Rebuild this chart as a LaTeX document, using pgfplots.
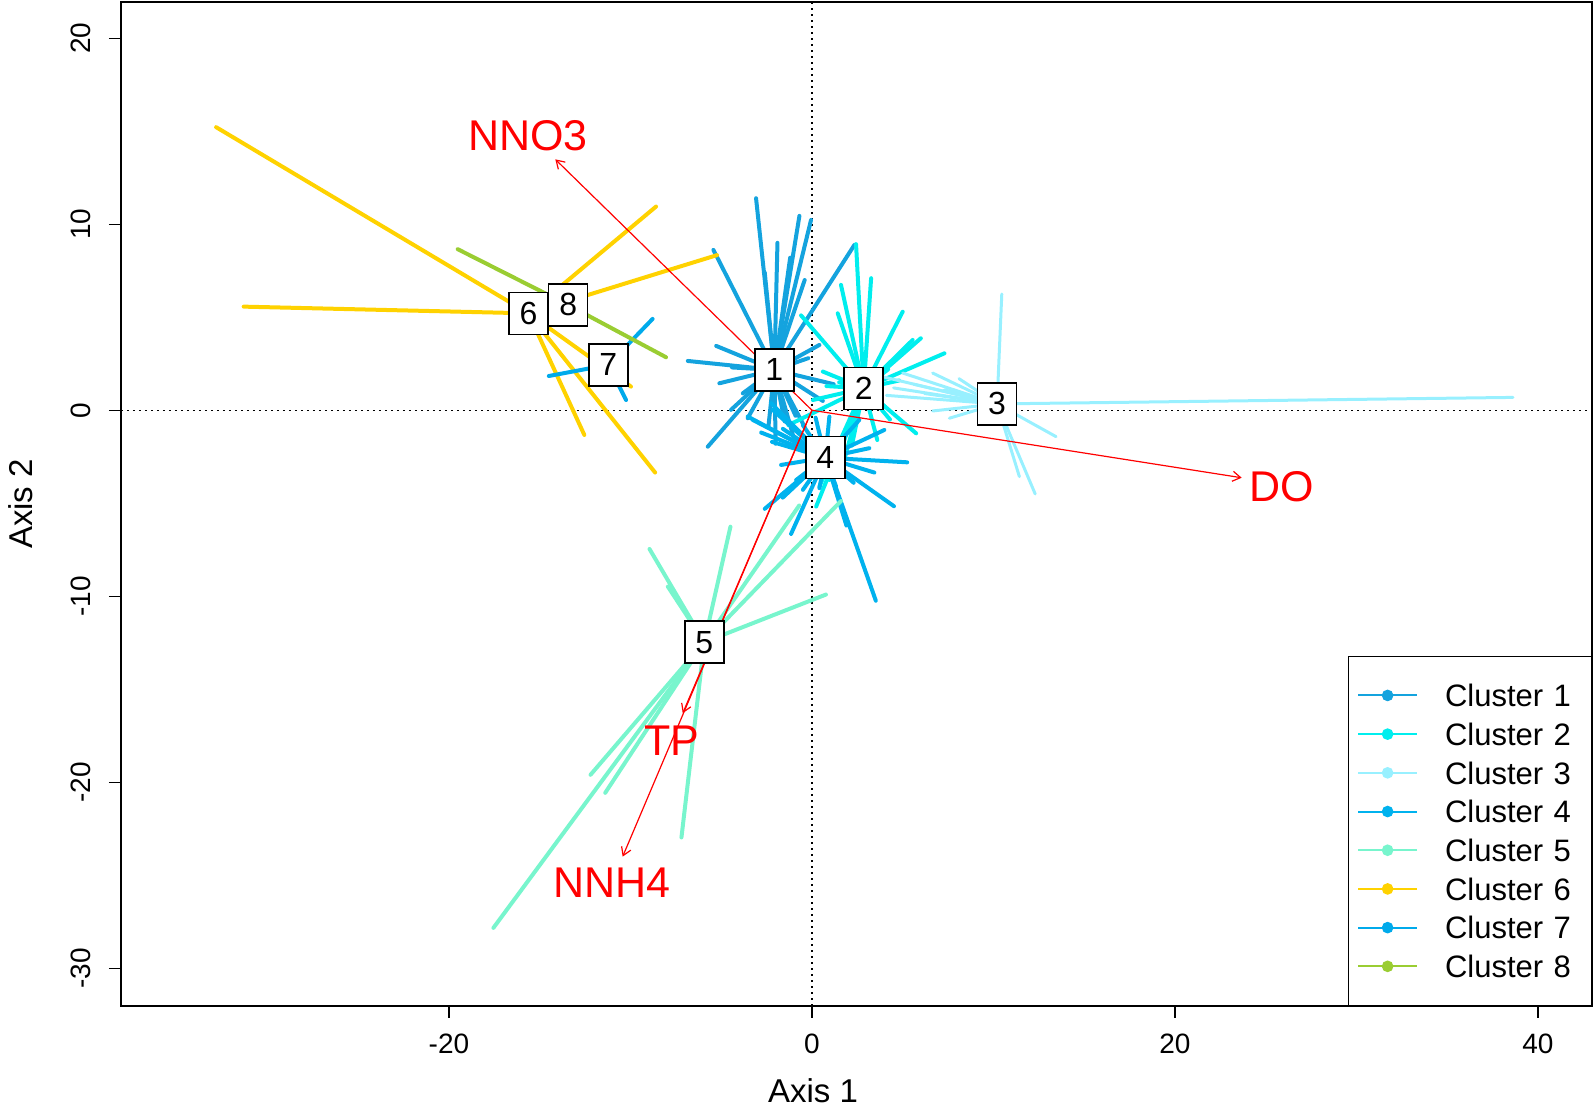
\documentclass[border=0pt]{standalone}
\usepackage{fontspec}
\setmainfont{Liberation Sans}
\usepackage{pgfplots}
\usepackage{pgfplotstable}
\pgfplotsset{compat=1.18}
\usetikzlibrary{arrows.meta}

\definecolor{cA}{RGB}{20,163,222}
\definecolor{cB}{RGB}{0,238,238}
\definecolor{cC}{RGB}{152,240,255}
\definecolor{cD}{RGB}{0,178,238}
\definecolor{cE}{RGB}{120,245,205}
\definecolor{cF}{RGB}{255,210,0}
\definecolor{cG}{RGB}{0,170,235}
\definecolor{cH}{RGB}{154,205,50}

% sites of each cluster (axis 1, axis 2)
\pgfplotstableread{
x y
-3.08 11.40
-0.69 10.45
-0.05 10.23
2.34 8.89
-5.43 8.62
-1.90 9.00
-1.20 8.20
-2.60 7.40
-0.40 7.00
-5.28 3.46
-6.84 2.65
-5.10 1.45
-4.40 2.30
-3.81 0.91
0.41 3.51
-0.20 2.80
-5.74 -1.96
-4.46 0.02
-3.54 -0.43
-2.40 -0.90
-2.00 -1.80
-1.50 -0.60
-1.00 -1.50
-0.90 -0.30
-0.40 -0.90
0.60 0.50
1.20 1.40
}\clA
\pgfplotstableread{
x y
2.43 8.93
3.26 7.10
1.60 6.74
1.42 5.21
-0.60 5.10
5.00 5.30
6.00 3.87
5.55 3.78
7.30 3.06
4.20 2.20
4.80 1.60
0.60 2.08
0.80 1.30
0.05 0.55
1.50 1.50
4.00 0.20
5.74 -1.24
4.30 -0.50
3.60 -1.60
2.20 -1.90
1.80 -2.60
-1.30 -0.80
0.96 -3.75
0.41 -4.10
0.23 -5.18
}\clB
\pgfplotstableread{
x y
10.46 6.25
12.30 -4.50
11.43 -3.57
13.45 -1.42
38.63 0.69
7.57 -0.43
6.65 -0.04
3.90 1.80
5.00 2.00
6.65 2.00
5.60 1.40
4.50 1.20
6.20 0.90
8.10 1.70
7.30 1.10
4.10 0.80
}\clC
\pgfplotstableread{
x y
3.52 -10.24
4.52 -5.16
5.25 -2.80
3.99 -1.06
3.44 -3.35
3.16 -2.04
2.61 -0.52
0.96 -0.34
-1.15 -6.65
-1.61 -4.70
-1.70 -2.94
-3.54 -0.34
-3.26 -0.52
-2.25 0.38
-2.16 0.02
-2.80 -1.20
-2.20 -1.70
-1.60 -1.00
-1.00 -1.50
-0.50 -0.80
0.20 -0.40
0.41 -4.19
1.33 -4.10
-0.50 -4.28
-0.87 -3.75
2.30 -3.90
1.90 -6.20
-2.60 -5.30
}\clD
\pgfplotstableread{
x y
-8.95 -7.46
-7.94 -9.48
-4.49 -6.26
1.60 -4.88
-0.70 -5.12
0.77 -9.91
-17.55 -27.83
-11.39 -20.57
-12.20 -19.60
-7.19 -22.97
}\clE
\pgfplotstableread{
x y
-32.83 15.22
-31.31 5.57
-8.59 10.95
-5.23 8.34
-12.54 -1.33
-8.64 -3.35
-9.97 1.27
}\clF
\pgfplotstableread{
x y
-14.50 1.84
-8.78 4.91
-10.24 0.55
}\clG
\pgfplotstableread{
x y
-19.52 8.66
-8.04 2.85
}\clH
% fitted vectors
\pgfplotstableread{
x y u v
0 0 -14.14 13.49
0 0 23.68 -3.63
0 0 -7.12 -16.29
0 0 -10.43 -24.00
}\env

\begin{document}
\begin{tikzpicture}
\begin{axis}[
  name=ax,
  scale only axis,
  width=735.5pt, height=502pt,
  xmin=-38.07, xmax=42.98, ymin=-32.03, ymax=21.95,
  xtick={-20,0,20,40}, ytick={-30,-20,-10,0,10,20},
  xtick pos=bottom, ytick pos=left,
  tick align=outside, major tick length=6pt,
  axis line style={line width=1pt},
  tick style={line width=0.6pt, black},
  /pgf/number format/assume math mode=true,
  ticklabel style={font=\fontsize{14}{16}\selectfont},
  yticklabel style={rotate=90, anchor=south, inner sep=0pt, yshift=9.1pt},
  xticklabel style={anchor=north, inner sep=0pt, yshift=-7.6pt},
  xlabel={Axis 1}, ylabel={Axis 2},
  label style={font=\fontsize{16.5}{19}\selectfont},
  xlabel style={at={(axis description cs:0.4704,0)}, anchor=base, yshift=-48.5pt},
  ylabel style={at={(axis description cs:0,0.5)}, anchor=base, yshift=44pt},
  legend style={at={(1,0)}, anchor=south east, draw=black, line width=0.6pt,
    fill=white, inner xsep=4.5pt, inner ysep=9.85pt, row sep=0pt, column sep=13.3pt,
    font=\fontsize{15.5}{18}\selectfont,
    nodes={inner sep=0pt, text height=15.27pt, text depth=4.08pt, text width=68.7pt}},
  legend cell align=left,
  legend image code/.code={
    \draw[#1, line width=1pt] (0pt,0pt) -- (29.5pt,0pt);
    \fill[#1] (14.6pt,0pt) circle (2.6pt);},
]
% zero lines
\addplot[black, line width=0.6pt, dash pattern=on 1pt off 2pt, forget plot] coordinates {(-38.07,0) (42.98,0)};
\addplot[black, line width=0.6pt, dash pattern=on 1pt off 2pt, forget plot] coordinates {(0,-32.03) (0,21.95)};

% spiders: each site joined to its cluster centroid
\addplot[cA, line width=2pt, line cap=round, forget plot, quiver={u={-2.07-(\thisrow{x})}, v={2.17-(\thisrow{y})}}] table {\clA};
\addplot[cB, line width=2pt, line cap=round, forget plot, quiver={u={2.85-(\thisrow{x})}, v={1.18-(\thisrow{y})}}] table {\clB};
\addplot[cC, line width=1.5pt, line cap=round, forget plot, quiver={u={10.2-(\thisrow{x})}, v={0.34-(\thisrow{y})}}] table {\clC};
\addplot[cD, line width=2pt, line cap=round, forget plot, quiver={u={0.74-(\thisrow{x})}, v={-2.55-(\thisrow{y})}}] table {\clD};
\addplot[cE, line width=2pt, line cap=round, forget plot, quiver={u={-5.93-(\thisrow{x})}, v={-12.47-(\thisrow{y})}}] table {\clE};
\addplot[cF, line width=2pt, line cap=round, forget plot, quiver={u={-15.62-(\thisrow{x})}, v={5.21-(\thisrow{y})}}] table {\clF};
\addplot[cG, line width=2pt, line cap=round, forget plot, quiver={u={-11.22-(\thisrow{x})}, v={2.44-(\thisrow{y})}}] table {\clG};
\addplot[cH, line width=2pt, line cap=round, forget plot, quiver={u={-13.43-(\thisrow{x})}, v={5.66-(\thisrow{y})}}] table {\clH};

% environmental vectors
\addplot[red, line width=0.6pt, -{Straight Barb[length=4pt,width=5pt]}, forget plot,
  quiver={u=\thisrow{u}, v=\thisrow{v}}] table {\env};
\addplot[only marks, mark=*, mark size=0pt, mark options={draw=none, fill=none}, forget plot,
  point meta=explicit symbolic, nodes near coords,
  every node near coord/.append style={anchor=center, text=red, inner sep=0pt,
    font=\fontsize{21.5}{24}\selectfont}]
  coordinates {(-15.64,14.76) [NNO3] (25.86,-4.12) [DO] (-7.73,-17.76) [TP] (-11.01,-25.38) [NNH4]};

% centroid labels
\addplot[only marks, mark=*, mark size=0pt, mark options={draw=none, fill=none}, forget plot,
  point meta=explicit symbolic, nodes near coords,
  every node near coord/.append style={anchor=center, draw=black, fill=white, text=black,
    line width=0.75pt, inner sep=0pt, minimum width=19.5pt, minimum height=21pt,
    font=\fontsize{16}{18}\selectfont}]
  coordinates {(-2.07,2.17) [1] (2.85,1.18) [2] (10.2,0.34) [3] (0.74,-2.55) [4]
    (-5.93,-12.47) [5] (-15.62,5.21) [6] (-11.22,2.44) [7] (-13.43,5.66) [8]};

\addlegendimage{cA}\addlegendentry{Cluster 1}
\addlegendimage{cB}\addlegendentry{Cluster 2}
\addlegendimage{cC}\addlegendentry{Cluster 3}
\addlegendimage{cD}\addlegendentry{Cluster 4}
\addlegendimage{cE}\addlegendentry{Cluster 5}
\addlegendimage{cF}\addlegendentry{Cluster 6}
\addlegendimage{cG}\addlegendentry{Cluster 7}
\addlegendimage{cH}\addlegendentry{Cluster 8}
\end{axis}
\pgfresetboundingbox
\path[use as bounding box] ([shift={(-60.5pt,-50.5pt)}]ax.south west) rectangle ([shift={(1pt,1pt)}]ax.north east);
\end{tikzpicture}
\end{document}
